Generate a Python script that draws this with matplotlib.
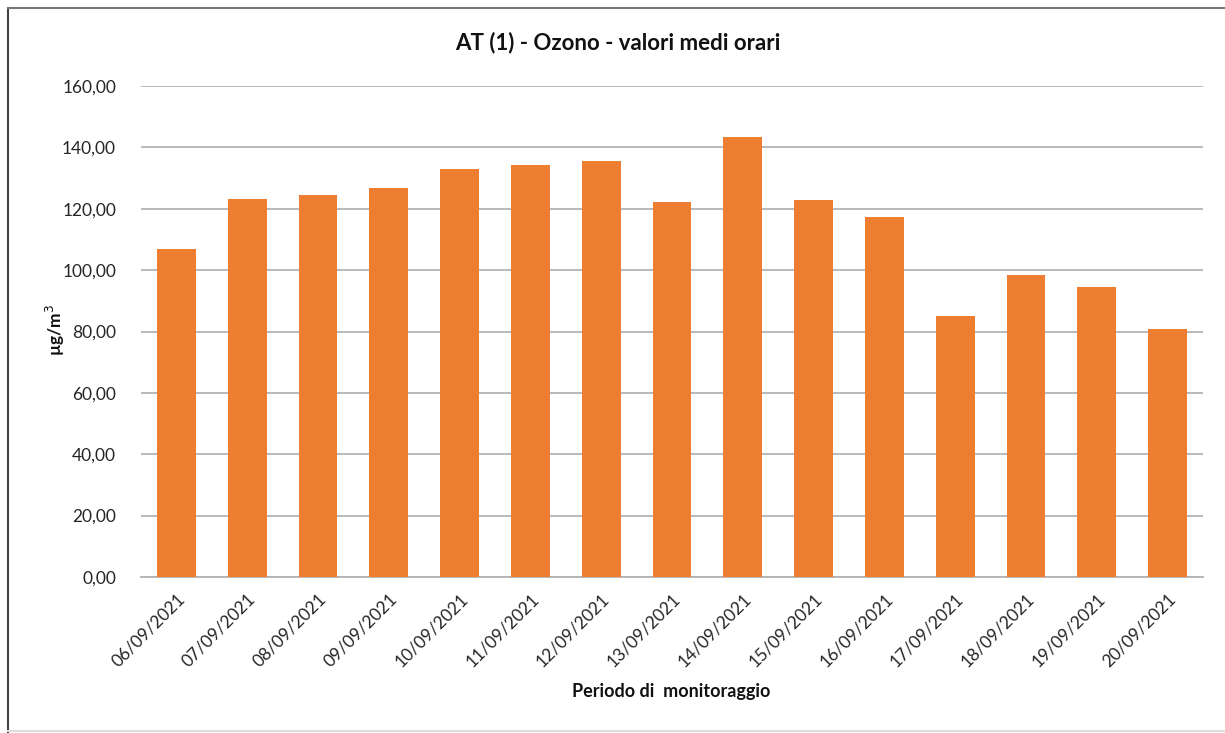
import matplotlib.pyplot as plt
from matplotlib.lines import Line2D

plt.rcParams['font.family'] = ['Lato', 'DejaVu Sans']

dates = ['06/09/2021', '07/09/2021', '08/09/2021', '09/09/2021', '10/09/2021',
         '11/09/2021', '12/09/2021', '13/09/2021', '14/09/2021', '15/09/2021',
         '16/09/2021', '17/09/2021', '18/09/2021', '19/09/2021', '20/09/2021']
ozono = [106.9, 123.2, 124.4, 126.6, 132.8, 134.3, 135.4, 122.1, 143.4, 122.9,
         117.2, 84.9, 98.5, 94.4, 80.7]
y_ticks = [0, 20, 40, 60, 80, 100, 120, 140, 160]
y_labels = ['0,00', '20,00', '40,00', '60,00', '80,00', '100,00', '120,00', '140,00', '160,00']

fig = plt.figure(figsize=(12.25, 7.33), dpi=100)
ax = fig.add_axes([141/1225, 1 - 577/733, (1203 - 141)/1225, (577 - 86)/733])

x = range(len(dates))
ax.bar(x, ozono, width=0.55, color='#ED7D31', zorder=3)

ax.set_xlim(-0.5, len(dates) - 0.5)
ax.set_ylim(0, 160)
ax.set_yticks(y_ticks)
ax.set_yticklabels(y_labels, fontsize=12.5, color='#262626')
ax.set_xticks(list(x))
ax.set_xticklabels(dates, rotation=45, ha='right', rotation_mode='anchor',
                   fontsize=12.5, color='#262626')
ax.tick_params(axis='both', length=0)
ax.tick_params(axis='y', pad=18)
ax.tick_params(axis='x', pad=10)

ax.grid(axis='y', color='#b3b3b3', linewidth=1.3, zorder=0)
for s in ['top', 'right', 'left']:
    ax.spines[s].set_visible(False)
ax.spines['bottom'].set_color('#b3b3b3')
ax.spines['bottom'].set_linewidth(1.3)

fig.text(618/1225, 1 - 43/733, 'AT (1) - Ozono - valori medi orari',
         ha='center', va='center', fontsize=16, fontweight='bold', color='#111111')
fig.text(671/1225, 1 - 692/733, 'Periodo di  monitoraggio',
         ha='center', va='center', fontsize=13, fontweight='bold', color='#111111')
fig.text(55/1225, 1 - 330/733, 'µg/m$^3$', rotation=90,
         ha='center', va='center', fontsize=12.5, fontweight='bold', color='#111111')

# outer frame of the original picture
fig.add_artist(Line2D([8/1225, 8/1225], [0, 1 - 8/733], transform=fig.transFigure,
                      color='#444444', linewidth=1.5))
fig.add_artist(Line2D([8/1225, 1], [1 - 8/733, 1 - 8/733], transform=fig.transFigure,
                      color='#777777', linewidth=1.5))
fig.add_artist(Line2D([8/1225, 1], [1 - 731/733, 1 - 731/733], transform=fig.transFigure,
                      color='#dddddd', linewidth=1.5))

fig.savefig('out.png', dpi=100)
